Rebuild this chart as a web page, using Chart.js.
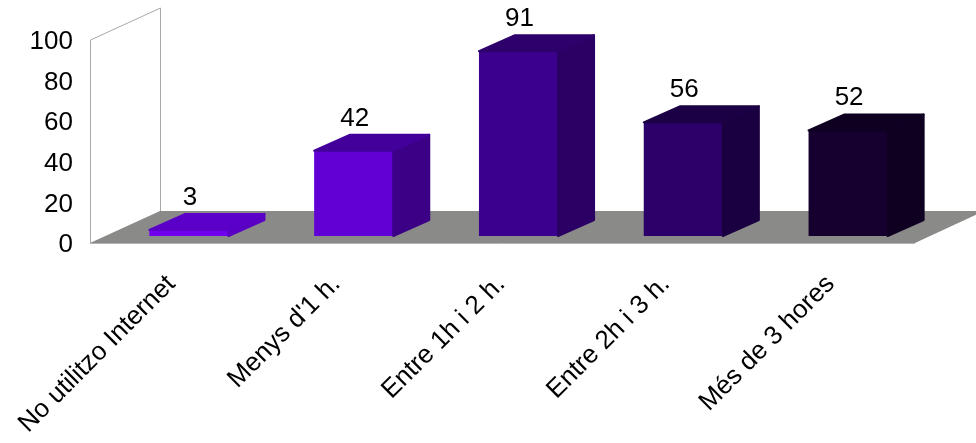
<!DOCTYPE html>
<html>
<head>
<meta charset="utf-8">
<style>
  html, body { margin: 0; padding: 0; background: #fff; }
  #wrap { width: 976px; height: 443px; }
</style>
<script src="https://cdn.jsdelivr.net/npm/chart.js@4"></script>
</head>
<body>
<div id="wrap"><canvas id="chart" width="976" height="443"></canvas></div>
<script>
// Values
const categories = ['No utilitzo Internet', "Menys d'1 h.", 'Entre 1h i 2 h.', 'Entre 2h i 3 h.', 'Més de 3 hores'];
const answers = [3, 42, 91, 56, 52];
const yTicks = [0, 20, 40, 60, 80, 100];

// Bar palette, one shade per face
const frontColors = ['#7000ee', '#6000d4', '#3c008e', '#2b0068', '#150030'];
const sideColors = ['#5a00c4', '#3c0086', '#2b0064', '#1a0040', '#0f0022'];
const topColors = ['#5a00c8', '#43009a', '#2e006c', '#1c0046', '#0f0022'];

// Oblique projection of the fake 3D box
const DEPTH_X = 69, DEPTH_Y = -32;   // floor depth
const BOX_X = 36, BOX_Y = -16;       // bar depth
const SHIFT_X = 15.5, SHIFT_Y = -7;  // bars stand a little behind the front edge

function poly(ctx, pts) {
  ctx.beginPath();
  pts.forEach((p, i) => i ? ctx.lineTo(p[0], p[1]) : ctx.moveTo(p[0], p[1]));
  ctx.closePath();
}

// Fill and stroke in one colour so the corners come out slightly rounded
function face(ctx, pts, color) {
  poly(ctx, pts);
  ctx.fillStyle = color;
  ctx.strokeStyle = color;
  ctx.lineWidth = 2;
  ctx.lineJoin = 'round';
  ctx.fill();
  ctx.stroke();
}

const box3d = {
  id: 'box3d',
  beforeDatasetsDraw(chart) {
    const { ctx, chartArea: a } = chart;
    const y0 = chart.scales.y.getPixelForValue(0);
    const y100 = chart.scales.y.getPixelForValue(100);
    ctx.save();
    // floor
    poly(ctx, [[a.left - 1, y0], [a.left + DEPTH_X, y0 + DEPTH_Y], [a.right + DEPTH_X, y0 + DEPTH_Y], [a.right, y0]]);
    ctx.fillStyle = '#8a8a88';
    ctx.fill();
    ctx.strokeStyle = '#b4b4b4';
    ctx.lineWidth = 1;
    ctx.beginPath();
    ctx.moveTo(a.left - 1, y0 + 0.5);
    ctx.lineTo(a.right, y0 + 0.5);
    ctx.stroke();
    // side wall, open at the back
    ctx.strokeStyle = '#a8a8a8';
    ctx.beginPath();
    ctx.moveTo(a.left - 0.5, y0);
    ctx.lineTo(a.left - 0.5, y100);
    ctx.lineTo(a.left + DEPTH_X + 0.5, y100 + DEPTH_Y);
    ctx.lineTo(a.left + DEPTH_X + 0.5, y0 + DEPTH_Y);
    ctx.stroke();
    ctx.restore();
  },
  // the library draws the front faces, shifted back from the front edge
  beforeDatasetDraw(chart) {
    chart.ctx.save();
    chart.ctx.translate(SHIFT_X, SHIFT_Y);
  },
  afterDatasetDraw(chart) {
    chart.ctx.restore();
  },
  afterDatasetsDraw(chart) {
    const { ctx } = chart;
    const bars = chart.getDatasetMeta(0).data;
    ctx.save();
    ctx.translate(SHIFT_X, SHIFT_Y);
    bars.forEach((bar, i) => {
      const l = bar.x - bar.width / 2, r = bar.x + bar.width / 2;
      face(ctx, [[r, bar.y], [r + BOX_X, bar.y + BOX_Y], [r + BOX_X, bar.base + BOX_Y], [r, bar.base]], sideColors[i]);
      face(ctx, [[l, bar.y], [l + BOX_X, bar.y + BOX_Y], [r + BOX_X, bar.y + BOX_Y], [r, bar.y]], topColors[i]);
      // value above the back edge of the bar
      ctx.font = '26px "Liberation Sans", Arial, sans-serif';
      ctx.fillStyle = '#000';
      ctx.textAlign = 'center';
      ctx.textBaseline = 'alphabetic';
      ctx.fillText(String(answers[i]), bar.x + 1, bar.y + BOX_Y - 9);
    });
    ctx.restore();
  }
};

new Chart(document.getElementById('chart'), {
  type: 'bar',
  data: {
    labels: categories,
    datasets: [{
      data: answers,
      backgroundColor: frontColors,
      borderWidth: 0,
      barPercentage: 0.48,
      categoryPercentage: 1
    }]
  },
  options: {
    responsive: false,
    animation: false,
    layout: { padding: { top: 40, right: 61 } },
    plugins: { legend: { display: false }, title: { display: false }, tooltip: { enabled: false } },
    scales: {
      x: {
        grid: { display: false, drawTicks: false },
        border: { display: false },
        ticks: {
          color: '#000',
          font: { family: '"Liberation Sans", Arial, sans-serif', size: 26 },
          minRotation: 45,
          maxRotation: 45,
          padding: 26,
          labelOffset: -2,
          autoSkip: false
        },
        // long rotated labels must not push the plot area to the right
        afterFit(scale) {
          scale.height = 200;
          scale.paddingLeft = 0;
          scale.paddingRight = 0;
        }
      },
      y: {
        min: 0,
        max: 100,
        grid: { display: false, drawTicks: false },
        border: { display: false },
        afterBuildTicks(scale) { scale.ticks = yTicks.map(value => ({ value })); },
        ticks: {
          color: '#000',
          font: { family: '"Liberation Sans", Arial, sans-serif', size: 26 },
          padding: 18,
          labelOffset: 2
        },
        afterFit(scale) { scale.width = 91; }
      }
    }
  },
  plugins: [box3d]
});
</script>
</body>
</html>
